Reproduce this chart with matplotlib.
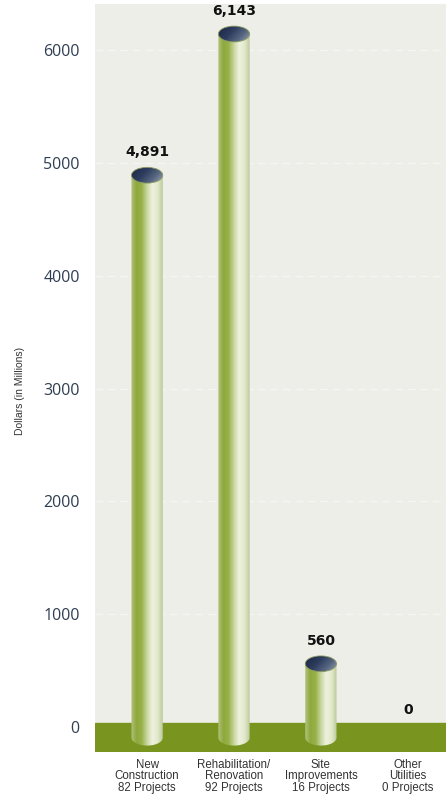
import numpy as np
import matplotlib.pyplot as plt
from matplotlib.colors import LinearSegmentedColormap
from matplotlib.patches import Ellipse, Polygon

categories = ["New\nConstruction\n82 Projects",
              "Rehabilitation/\nRenovation\n92 Projects",
              "Site\nImprovements\n16 Projects",
              "Other\nUtilities\n0 Projects"]
values = [4891, 6143, 560, 0]
value_labels = ["4,891", "6,143", "560", "0"]
yticks = [0, 1000, 2000, 3000, 4000, 5000, 6000]

body_cmap = LinearSegmentedColormap.from_list(
    "body", ["#b3c27e", "#8fa93e", "#98b249", "#c9d6a0", "#eef2de", "#e3e9cc", "#bcc89a"])
cap_cmap = LinearSegmentedColormap.from_list(
    "cap", ["#1e2b48", "#2d3c5e", "#55657f", "#9aa5b6"])

fig = plt.figure(figsize=(4.46, 8.01), dpi=100)
ax = fig.add_axes([95 / 446, 49 / 801, 351 / 446, 748 / 801])
ax.set_xlim(-0.6, 3.44)
ax.set_ylim(-222, 6409)
ax.set_facecolor("#eeeee9")

# floor band
ax.axhspan(-222, 35, color="#7a9420", zorder=1)

# faint dashed grid
for t in yticks[1:]:
    ax.axhline(t, color="white", lw=0.9, ls=(0, (6, 4)), alpha=0.45, zorder=0.5)

w = 0.36        # cylinder width (data units)
h = 140         # ellipse height (data units)
bottom = -95

grad = np.linspace(0, 1, 256).reshape(1, -1)
yy, xx = np.mgrid[0:1:64j, 0:1:64j]
cap_grad = np.clip(0.75 * xx + 0.35 * yy - 0.1, 0, 1)

for i, v in enumerate(values):
    if v > 0:
        theta = np.linspace(np.pi, 2 * np.pi, 60)
        arc = np.column_stack([i + w / 2 * np.cos(theta), bottom + h / 2 * np.sin(theta)])
        outline = np.vstack([[[i - w / 2, v]], arc, [[i + w / 2, v]]])
        body = Polygon(outline, closed=True, facecolor="none", edgecolor="none")
        ax.add_patch(body)
        im = ax.imshow(grad, cmap=body_cmap, aspect="auto", zorder=3,
                       extent=[i - w / 2, i + w / 2, bottom - h / 2, v])
        im.set_clip_path(body)

        cap = Ellipse((i, v), w, h, facecolor="none", edgecolor="#8c9a60", lw=0.6, zorder=5)
        ax.add_patch(cap)
        im2 = ax.imshow(cap_grad, cmap=cap_cmap, aspect="auto", zorder=4,
                        extent=[i - w / 2, i + w / 2, v - h / 2, v + h / 2])
        im2.set_clip_path(cap)
        ax.annotate(value_labels[i], (i, v), xytext=(0, 16.5), textcoords="offset points",
                    ha="center", va="center", fontsize=10, fontweight="bold",
                    family="DejaVu Sans", color="#111111", zorder=6)
    else:
        ax.annotate(value_labels[i], (i, v), xytext=(0, 12), textcoords="offset points",
                    ha="center", va="center", fontsize=10, fontweight="bold",
                    family="DejaVu Sans", color="#111111", zorder=6)

ax.set_yticks(yticks)
ax.set_yticklabels([str(t) for t in yticks], fontsize=11.5, family="Open Sans", color="#2f3e52")
ax.set_xticks(range(len(categories)))
ax.set_xticklabels(categories, fontsize=8.3, family="Liberation Sans", color="#333333",
                   linespacing=0.95)
ax.tick_params(axis="y", length=0, pad=11)
ax.tick_params(axis="x", length=0, pad=5)
for s in ax.spines.values():
    s.set_visible(False)

fig.text(20 / 446, 1 - 391 / 801, "Dollars (in Millions)", rotation=90, ha="center",
         va="center", fontsize=7.5, family="Liberation Sans", color="#333333")

fig.savefig("out.png", dpi=100, facecolor="white")
